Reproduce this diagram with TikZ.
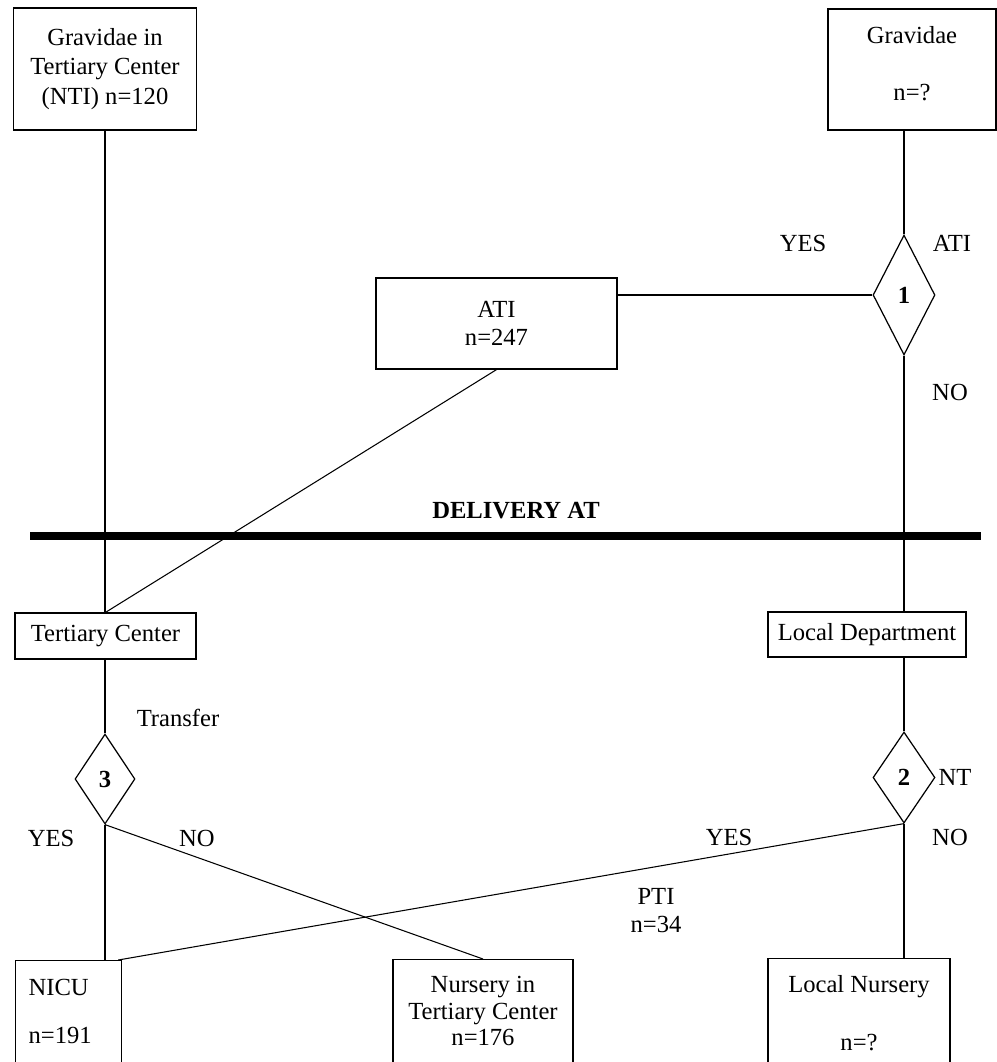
\documentclass[tikz,border=0pt]{standalone}
\usepackage{fontspec}
\setmainfont{Liberation Serif}
\usetikzlibrary{shapes.geometric}

\begin{document}
\begin{tikzpicture}[x=0.2mm,y=-0.2mm,
    box/.style={draw,line width=0.7pt,inner sep=0pt,align=center,font=\fontsize{14}{14.2}\selectfont},
    dec/.style={draw,diamond,line width=0.7pt,inner sep=0pt,font=\fontsize{14}{14.2}\selectfont\bfseries},
    lbl/.style={inner sep=0pt,font=\fontsize{14}{14.2}\selectfont},
    link/.style={line width=0.6pt}]
      \useasboundingbox (0,0) rectangle (997,1062);
      % boxes and decisions
      \draw
        (105,69) node[box,minimum width=36.6mm,minimum height=24.4mm,font=\fontsize{14}{17}\selectfont] (nti){Gravidae in\\Tertiary Center\\(NTI) n=120}
        (912,69.5) node[box,minimum width=33.6mm,minimum height=24.2mm] (grav){Gravidae\\[18pt]n=?\\[-7.4pt]\mbox{}}
        (496.5,323.5) node[box,minimum width=48.2mm,minimum height=18.2mm] (ati){ATI\\[1.7pt]n=247}
        (904,295) node[dec,minimum width=12.4mm,minimum height=24mm] (d1){1}
        (105.5,636) node[box,minimum width=36.2mm,minimum height=9.2mm] (ltc){Tertiary Center}
        (867,634.5) node[box,minimum width=39.6mm,minimum height=9mm] (lld){Local Department}
        (105,779) node[dec,minimum width=12mm,minimum height=18mm] (d3){3}
        (904,777.5) node[dec,minimum width=12.4mm,minimum height=18.2mm] (d2){2}
        (15,960) node[box,anchor=north west,align=left,text width=16mm,inner xsep=2.6mm,inner ysep=3.8mm] (nicu){NICU\\[13.1pt]n=191\\[20pt]\mbox{}}
        (483,959) node[box,anchor=north,minimum width=36mm,inner ysep=3.4mm,font=\fontsize{14}{15}\selectfont] (nurs){Nursery in\\Tertiary Center\\n=176\\[20pt]\mbox{}}
        (859,958) node[box,anchor=north,minimum width=36.4mm,inner ysep=3.4mm] (lnur){Local Nursery\\[18.8pt]n=?\\[20pt]\mbox{}};
      % delivery bar
      \coordinate (barL) at (30,536);
      \coordinate (barR) at (981,536);
      \draw[line width=1.7mm] (barL) -- (barR);
      \node[lbl,font=\fontsize{14}{14.2}\selectfont\bfseries] (deliv) at (516,511) {DELIVERY AT};
      % branch labels
      \node[lbl] (yes1) at (803,243) {YES};
      \node[lbl] (atilbl) at (952,243) {ATI};
      \node[lbl] (no1) at (950,392) {NO};
      \node[lbl] (transf) at (178,718) {Transfer};
      \node[lbl] (yes3) at (51,838) {YES};
      \node[lbl] (no3) at (197,838) {NO};
      \node[lbl] (yes2) at (729,837) {YES};
      \node[lbl] (no2) at (950,837) {NO};
      \node[lbl] (ntlbl) at (955,777) {NT};
      \node[lbl,align=center] (pti) at (656,911) {PTI\\[1.7pt]n=34};
      \begin{scope}[link]
        \draw (nti.south) -- (nti.south |- ltc.north);
        \draw (d1.north |- grav.south) -- (d1.north);
        \draw (d1.west) -- (d1.west -| ati.east);
        \draw (ati.south) -- (ltc.north);
        \draw (d1.south) -- (d1.south |- lld.north);
        \draw (d2.north |- lld.south) -- (d2.north);
        \draw (d3.north |- ltc.south) -- (d3.north);
        \draw (d3.south) -- (d3.south |- nicu.north);
        \draw (d3.south) -- (nurs.north);
        \draw (d2.south) -- ([xshift=-0.8mm]nicu.north east);
        \draw (d2.south) -- (d2.south |- lnur.north);
      \end{scope}
    \end{tikzpicture}
\end{document}
